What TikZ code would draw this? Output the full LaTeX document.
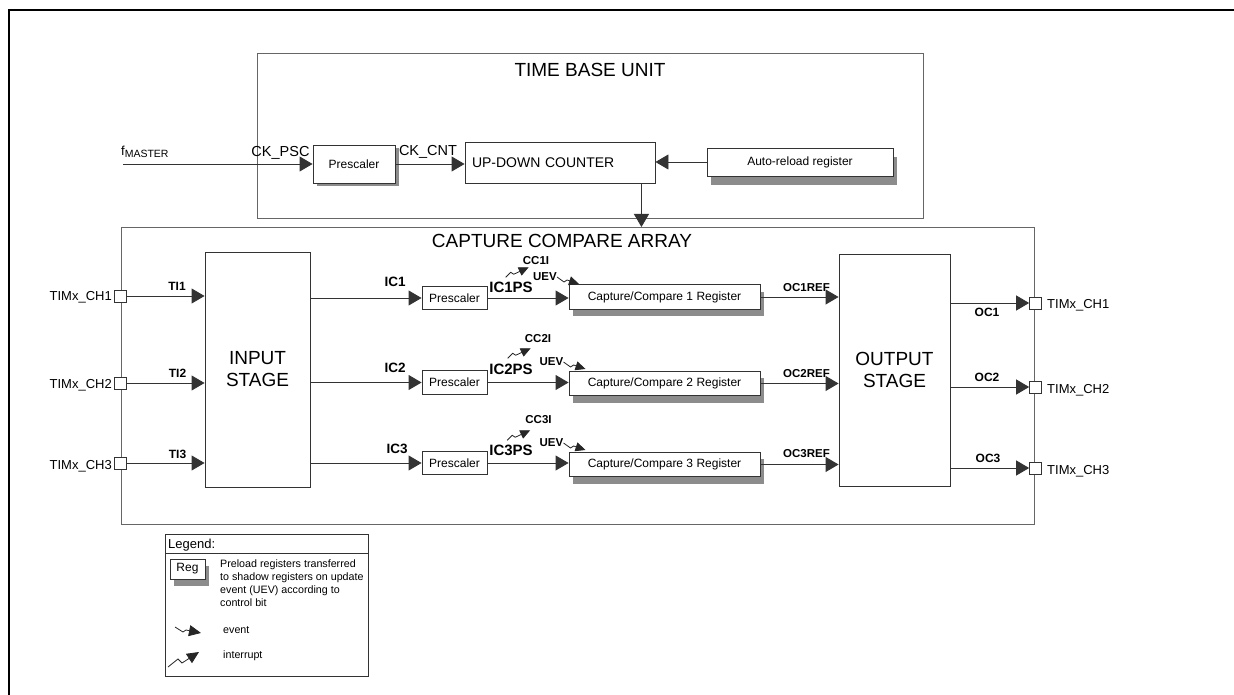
\documentclass[tikz,border=0pt]{standalone}
\usepackage{fontspec}
\setmainfont{Liberation Sans}
\usepackage{tikz}
\usetikzlibrary{positioning}
\usetikzlibrary{arrows.meta}
\usetikzlibrary{shadows}

\newcommand{\fsz}[1]{\fontsize{#1}{#1}\selectfont}

\begin{document}
\begin{tikzpicture}[
    x=1pt, y=-1pt,
    every node/.style={inner sep=0pt},
    box/.style={draw=black!80, line width=0.9pt, rectangle, fill=white, align=center},
    sbox/.style={box, drop shadow={shadow xshift=4pt, shadow yshift=-#1,
                 fill=black!45, opacity=1}},
    sbox/.default=7pt,
    unit/.style={draw=black!60, line width=1pt, rectangle, anchor=north west},
    stage/.style={box, font=\fontsize{19}{22}\selectfont},
    pin/.style={draw=black!80, line width=0.7pt, fill=white, minimum size=12pt},
    title/.style={font=\fsz{19}},
    txt/.style={font=\fsz{#1}},
    txt/.default=12,
    blbl/.style={font=\fsz{#1}\bfseries},
    blbl/.default=12,
    wire/.style={draw=black!80, line width=0.9pt},
    sig/.style={draw=black!85, line width=0.8pt, -{Triangle[length=10pt,width=9pt]}},
    >={Triangle[length=13pt,width=15pt]}
  ]
    \useasboundingbox (0,0) rectangle (1234,695);

    % Cadre de la figure
    \draw[line width=2.4pt] (9,695) -- (9,10) -- (1234,10);

    % Time base unit
    \node[unit, minimum width=666pt, minimum height=165pt] (tbu) at (257,53) {};
    \node[title] (tbutitle) at (590,70) {TIME BASE UNIT};
    \node[sbox=3pt, txt, minimum width=82pt, minimum height=38pt] (psc) at (354,164) {Prescaler};
    \node[box, txt=14, minimum width=190pt, minimum height=41pt,
          text width=176pt, align=left] (cnt) at (560,162.5) {UP-DOWN COUNTER};
    \node[sbox=9pt, txt, minimum width=186pt, minimum height=28pt] (arl) at (800,162) {Auto-reload register};
    \coordinate (fm) at (123,164);
    \coordinate (cntout) at ([xshift=-14pt]cnt.south east);
    \node[txt=13, anchor=base west] (fmaster) at (121,156) {f\raisebox{-2pt}{\fsz{10.5}MASTER}};
    \node[txt=14.5, anchor=base] (ckpsc) at (280.5,157) {CK\_PSC};
    \node[txt=14.5, anchor=base] (ckcnt) at (428,156) {CK\_CNT};

    % Capture compare array
    \node[unit, minimum width=913pt, minimum height=297pt] (cca) at (121,227) {};
    \node[title] (ccatitle) at (562,240.5) {CAPTURE COMPARE ARRAY};
    \node[stage, minimum width=105pt, minimum height=235pt] (instage) at (257.5,369.5) {INPUT\\STAGE};
    \node[stage, minimum width=111pt, minimum height=232pt] (outstage) at (894.5,370) {OUTPUT\\STAGE};

    % Broches d'entree
    \node[pin] (pin1) at (120.5,296) {};
    \node[pin] (pin2) at (120.5,383) {};
    \node[pin] (pin3) at (120.5,463) {};
    \node[txt=13, anchor=base east] (chin1) at (112,300) {TIMx\_CH1};
    \node[txt=13, anchor=base east] (chin2) at (112,388) {TIMx\_CH2};
    \node[txt=13, anchor=base east] (chin3) at (112,469) {TIMx\_CH3};
    \node[blbl] (ti1) at (177,286) {TI1};
    \node[blbl] (ti2) at (177.5,373) {TI2};
    \node[blbl] (ti3) at (177.5,454) {TI3};

    % Prescalers des canaux
    \node[box, txt, minimum width=65pt, minimum height=23.5pt] (pre1) at (454.5,298) {Prescaler};
    \node[box, txt, minimum width=65pt, minimum height=23.5pt] (pre2) at (454.5,382.5) {Prescaler};
    \node[box, txt, minimum width=65pt, minimum height=23.5pt] (pre3) at (454.5,463) {Prescaler};
    \node[blbl=13.5] (ic1) at (395,281.5) {IC1};
    \node[blbl=13.5] (ic2) at (395,367.5) {IC2};
    \node[blbl=13.5] (ic3) at (397,448.5) {IC3};

    % Registres capture/compare
    \node[sbox, txt, minimum width=191pt, minimum height=24.5pt] (reg1) at (664.5,297) {Capture/Compare 1 Register};
    \node[sbox, txt, minimum width=191pt, minimum height=24.5pt] (reg2) at (664.5,383.5) {Capture/Compare 2 Register};
    \node[sbox, txt, minimum width=191pt, minimum height=24.5pt] (reg3) at (664.5,464.5) {Capture/Compare 3 Register};
    \node[blbl=15] (ic1ps) at (511,287) {IC1PS};
    \node[blbl=15] (ic2ps) at (511,369.5) {IC2PS};
    \node[blbl=15] (ic3ps) at (511,450.5) {IC3PS};
    \node[blbl=11.5] (cc1i) at (536,261) {CC1I};
    \node[blbl=11.5] (cc2i) at (538,339) {CC2I};
    \node[blbl=11.5] (cc3i) at (538.5,420) {CC3I};
    \node[blbl=11.5] (uev1) at (545,277) {UEV};
    \node[blbl=11.5] (uev2) at (551.5,362) {UEV};
    \node[blbl=11.5] (uev3) at (551.5,443) {UEV};
    \node[blbl=11.5] (ocref1) at (806.5,287.5) {OC1REF};
    \node[blbl=11.5] (ocref2) at (806.5,373.5) {OC2REF};
    \node[blbl=11.5] (ocref3) at (806.5,453.5) {OC3REF};

    % Broches de sortie
    \node[pin] (pout1) at (1035.5,303) {};
    \node[pin] (pout2) at (1035.5,387) {};
    \node[pin] (pout3) at (1035.5,468) {};
    \node[txt=13, anchor=base west] (chout1) at (1047,308) {TIMx\_CH1};
    \node[txt=13, anchor=base west] (chout2) at (1047,393) {TIMx\_CH2};
    \node[txt=13, anchor=base west] (chout3) at (1047,474) {TIMx\_CH3};
    \node[blbl] (oc1) at (987,312.5) {OC1};
    \node[blbl] (oc2) at (987,377) {OC2};
    \node[blbl] (oc3) at (988,458.5) {OC3};

    % Legende
    \node[unit, draw=black!80, minimum width=203pt, minimum height=142pt] (legend) at (165,534) {};
    \node[txt=13, anchor=base west] (legtitle) at (168,548) {Legend:};
    \node[sbox, txt, minimum width=35pt, minimum height=20pt] (regkey) at (187.5,569) {Reg};
    \node[anchor=north west, align=left, font=\fontsize{10.7}{12.7}\selectfont] (regtext) at (220,560)
          {Preload registers transferred\\to shadow registers on update\\event (UEV) according to\\control bit};
    \node[txt=10.7, anchor=base west] (evtkey) at (223,633) {event};
    \node[txt=10.7, anchor=base west] (intkey) at (223,658) {interrupt};

    % Liaisons time base unit
    \draw[wire, ->] (fm) -- (fm -| psc.west);
    \draw[wire, ->] (psc.east) -- (psc.east -| cnt.west);
    \draw[wire, ->] (arl.west) -- (arl.west -| cnt.east);
    \draw[wire, ->] (cntout) -- (cntout |- cca.north);

    % Liaisons entrees
    \draw[wire, ->] (pin1.east) -- (pin1 -| instage.west);
    \draw[wire, ->] (pin2.east) -- (pin2 -| instage.west);
    \draw[wire, ->] (pin3.east) -- (pin3 -| instage.west);
    \draw[wire, ->] (instage.east |- pre1) -- (pre1.west);
    \draw[wire, ->] (instage.east |- pre2) -- (pre2.west);
    \draw[wire, ->] (instage.east |- pre3) -- (pre3.west);

    % Liaisons prescaler -> registre -> sortie
    \draw[wire, ->] (pre1.east) -- (pre1.east -| reg1.west);
    \draw[wire, ->] (pre2.east) -- (pre2.east -| reg2.west);
    \draw[wire, ->] (pre3.east) -- (pre3.east -| reg3.west);
    \draw[wire, ->] (reg1.east) -- (reg1.east -| outstage.west);
    \draw[wire, ->] (reg2.east) -- (reg2.east -| outstage.west);
    \draw[wire, ->] (reg3.east) -- (reg3.east -| outstage.west);
    \draw[wire, ->] (outstage.east |- pout1) -- (pout1.west);
    \draw[wire, ->] (outstage.east |- pout2) -- (pout2.west);
    \draw[wire, ->] (outstage.east |- pout3) -- (pout3.west);

    % Interruptions et evenements
    \draw[sig] (cc1i.south west) ++(-17,12) -- ++(5,-5) -- ++(3,2) -- ++(15,-7);
    \draw[sig] (cc2i.south west) ++(-17,15) -- ++(5,-5) -- ++(3,2) -- ++(15,-7);
    \draw[sig] (cc3i.south west) ++(-18,16) -- ++(5,-5) -- ++(3,2) -- ++(15,-7);
    \draw[sig] (uev1.east) -- ++(7,5) -- ++(3,-2) -- ++(12,4);
    \draw[sig] (uev2.east) -- ++(7,5) -- ++(3,-2) -- ++(12,4);
    \draw[sig] (uev3.east) -- ++(7,5) -- ++(3,-2) -- ++(12,4);
    \draw[sig, -{Triangle[length=12pt,width=11pt]}] (evtkey.base west) ++(-48,-6) -- ++(8,5) -- ++(3,-2) -- ++(15,3);
    \draw[sig, -{Triangle[length=12pt,width=11pt]}] (intkey.base west) ++(-55,9) -- ++(10,-8) -- ++(4,4) -- ++(17,-11);

    % Separation de la legende
    \draw[wire] ([yshift=-19pt]legend.north west) -- ([yshift=-19pt]legend.north east);

\end{tikzpicture}
\end{document}
